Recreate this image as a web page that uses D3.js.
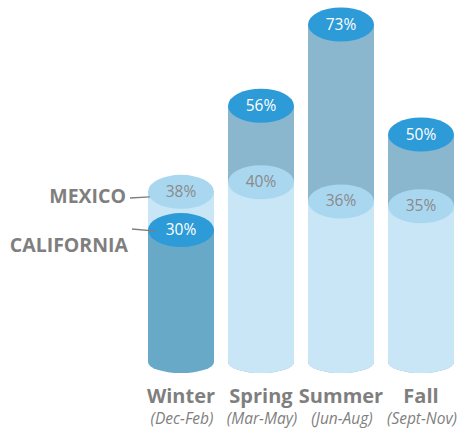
<!DOCTYPE html>
<html>
<head>
<meta charset="utf-8">
<script src="https://cdn.jsdelivr.net/npm/d3@7"></script>
<style>
  body { margin: 0; background: #fff; }
  text { font-family: "Open Sans", sans-serif; }
</style>
</head>
<body>
<div id="chart-area"></div>
<script>
let width = 463;
let height = 429;

// data
const seasons = ["Winter", "Spring", "Summer", "Fall"];
const months = ["(Dec-Feb)", "(Mar-May)", "(Jun-Aug)", "(Sept-Nov)"];
const mexico = [38, 40, 36, 35];
const california = [30, 56, 73, 50];
const seriesNames = ["MEXICO", "CALIFORNIA"];

let svg = d3.select("#chart-area")
  .append("svg")
  .attr("width", width)
  .attr("height", height);

let x = d3.scalePoint()
  .domain(seasons)
  .range([181, 421]);

let y = d3.scaleLinear()
  .domain([0, 100])
  .range([373.5, -104.5]);

let rx = 33;       // half cylinder width
let topRy = 17;    // top ellipse
let baseRy = 11;   // bottom ellipse
let baseY = 362;

let colors = {
  calTop: "#2d9bd7",
  calFront: "#69a9c8",
  calBack: "#8ab7ce",
  mexTop: "#a9d7ef",
  mexBody: "#c8e6f5"
};

let grey = "#7f7f7f";

function cylinder(g, cx, value, body, top) {
  let cy = y(value);
  g.append("rect")
    .attr("x", cx - rx)
    .attr("y", cy)
    .attr("width", rx * 2)
    .attr("height", baseY - cy)
    .attr("fill", body);
  g.append("ellipse")
    .attr("cx", cx).attr("cy", baseY)
    .attr("rx", rx).attr("ry", baseRy)
    .attr("fill", body);
  g.append("ellipse")
    .attr("cx", cx).attr("cy", cy)
    .attr("rx", rx).attr("ry", topRy)
    .attr("fill", top);
}

seasons.forEach((s, i) => {
  let cx = x(s);
  let g = svg.append("g").attr("class", "season");
  let items = [
    { name: "MEXICO", v: mexico[i] },
    { name: "CALIFORNIA", v: california[i] }
  ];
  // taller one behind, shorter one in front
  items.sort((a, b) => b.v - a.v);
  items.forEach((d, k) => {
    let front = k === 1;
    let isCal = d.name === "CALIFORNIA";
    let body = isCal ? (front ? colors.calFront : colors.calBack) : colors.mexBody;
    let top = isCal ? colors.calTop : colors.mexTop;
    cylinder(g, cx, d.v, body, top);
  });
  items.forEach(d => {
    let isCal = d.name === "CALIFORNIA";
    g.append("text")
      .attr("x", cx)
      .attr("y", y(d.v) - 1)
      .attr("text-anchor", "middle")
      .attr("dominant-baseline", "central")
      .style("font-size", "15.5px")
      .attr("fill", isCal ? "#ffffff" : "#8a8a8a")
      .text(d.v + "%");
  });

  // season labels
  svg.append("text")
    .attr("x", cx)
    .attr("y", 403)
    .attr("text-anchor", "middle")
    .style("font-size", "20px")
    .style("font-weight", "bold")
    .attr("fill", grey)
    .text(s);

  svg.append("text")
    .attr("x", cx + 1)
    .attr("y", 424)
    .attr("text-anchor", "middle")
    .style("font-size", "15.5px")
    .style("font-style", "italic")
    .attr("fill", grey)
    .text(months[i]);
});

// series labels with leader lines to the winter cylinder
let wx = x(seasons[0]);
svg.append("text")
  .attr("x", 126)
  .attr("y", 203)
  .attr("text-anchor", "end")
  .style("font-size", "19.5px")
  .style("font-weight", "bold")
  .attr("fill", grey)
  .text(seriesNames[0]);

svg.append("line")
  .attr("x1", 130).attr("y1", 198)
  .attr("x2", wx - rx + 2).attr("y2", y(mexico[0]) + 5)
  .attr("stroke", grey)
  .attr("stroke-width", 1.3);

svg.append("text")
  .attr("x", 128)
  .attr("y", 252)
  .attr("text-anchor", "end")
  .style("font-size", "19.5px")
  .style("font-weight", "bold")
  .attr("fill", grey)
  .text(seriesNames[1]);

svg.append("line")
  .attr("x1", 132).attr("y1", 229)
  .attr("x2", wx - rx + 8).attr("y2", y(california[0]) + 1)
  .attr("stroke", grey)
  .attr("stroke-width", 1.3);
</script>
</body>
</html>
